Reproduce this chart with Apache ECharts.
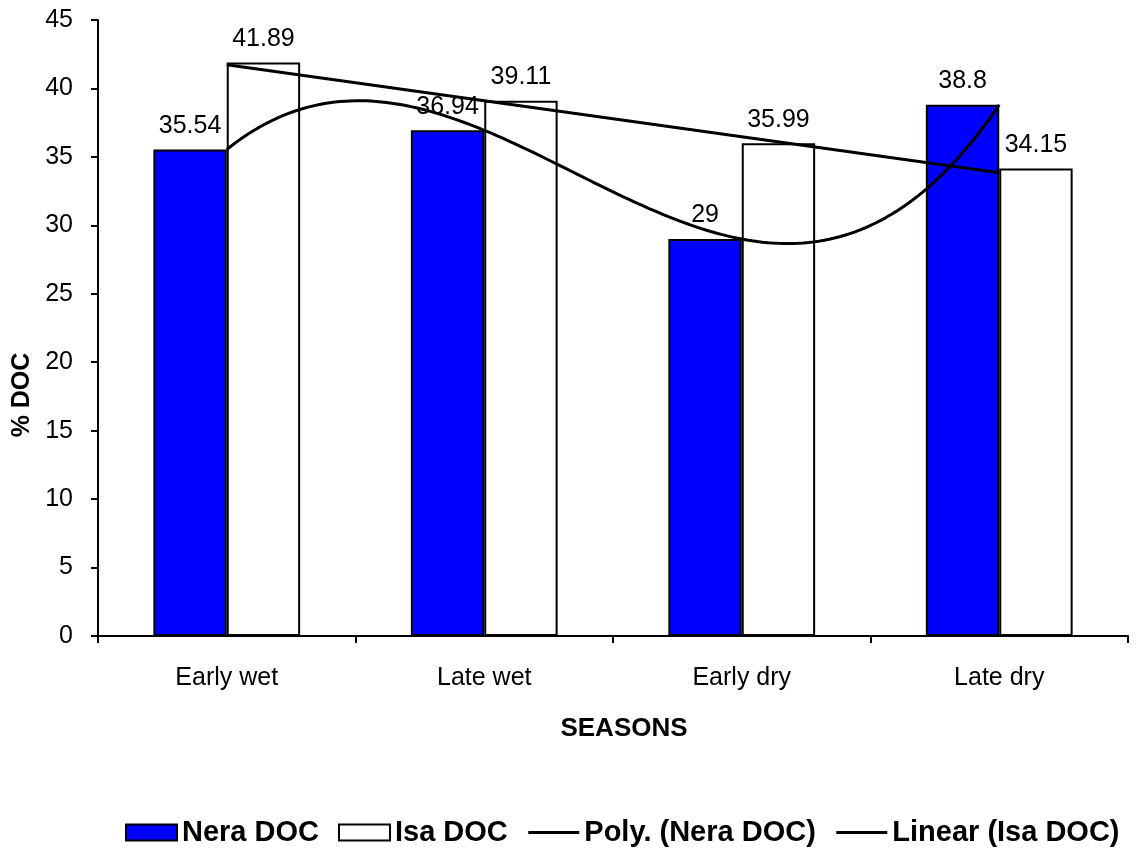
<!DOCTYPE html>
<html>
<head>
<meta charset="utf-8">
<script src="https://cdn.jsdelivr.net/npm/echarts@6/dist/echarts.min.js"></script>
<style>
  html, body { margin: 0; padding: 0; background: #fff; }
  #main { width: 1136px; height: 850px; }
</style>
</head>
<body>
<div id="main"></div>
<script>
// chart values
var seasons = ['Early wet', 'Late wet', 'Early dry', 'Late dry'];
var neraDoc = [35.54, 36.94, 29, 38.8];
var isaDoc = [41.89, 39.11, 35.99, 34.15];

var FONT = "'Liberation Sans', Arial, sans-serif";

// Poly. (Nera DOC): order-3 polynomial trendline through the 4 points (x = 1..4)
function polyTrend(ys) {
    var xs = ys.map(function (v, i) { return i + 1; });
    var pts = [];
    for (var x = 1; x <= 4.0001; x += 0.02) {
        var y = 0;
        for (var i = 0; i < xs.length; i++) {
            var l = 1;
            for (var j = 0; j < xs.length; j++) {
                if (j !== i) l *= (x - xs[j]) / (xs[i] - xs[j]);
            }
            y += ys[i] * l;
        }
        pts.push([x, y]);
    }
    return pts;
}

// Linear (Isa DOC): least squares line
function linearTrend(ys) {
    var n = ys.length, mx = (n + 1) / 2, my = 0, sxy = 0, sxx = 0;
    ys.forEach(function (v) { my += v / n; });
    ys.forEach(function (v, i) {
        sxy += (i + 1 - mx) * (v - my);
        sxx += (i + 1 - mx) * (i + 1 - mx);
    });
    var b = sxy / sxx, a = my - b * mx;
    return [[1, a + b], [n, a + b * n]];
}

var myChart = echarts.init(document.getElementById('main'));

myChart.setOption({
    animation: false,
    backgroundColor: '#fff',
    textStyle: { fontFamily: FONT },
    grid: { left: 98, right: 8, top: 20, bottom: 214 },
    legend: {
        left: 120,
        top: 813,
        itemWidth: 51,
        itemHeight: 16,
        itemGap: 19,
        textStyle: { fontFamily: FONT, fontSize: 29, fontWeight: 'bold', color: '#000' },
        data: [
            { name: 'Nera DOC', icon: 'rect' },
            { name: 'Isa DOC', icon: 'rect' },
            { name: 'Poly. (Nera DOC)', itemStyle: { opacity: 0 }, lineStyle: { width: 3 } },
            { name: 'Linear (Isa DOC)', itemStyle: { opacity: 0 }, lineStyle: { width: 3 } }
        ]
    },
    xAxis: [
        {
            type: 'category',
            data: seasons,
            name: 'SEASONS',
            nameLocation: 'middle',
            nameGap: 80,
            nameTextStyle: {
                fontFamily: FONT, fontSize: 26, fontWeight: 'bold', color: '#000',
                padding: [0, 0, 0, 22]
            },
            axisLine: { lineStyle: { color: '#000', width: 2 } },
            axisTick: { show: true, length: 7, lineStyle: { color: '#000', width: 2 } },
            axisLabel: { fontFamily: FONT, fontSize: 25, color: '#000', margin: 30 },
            splitLine: { show: false }
        },
        {
            type: 'value',
            min: 0.5,
            max: 4.5,
            show: false
        }
    ],
    yAxis: {
        type: 'value',
        min: 0,
        max: 45,
        interval: 5,
        name: '% DOC',
        nameLocation: 'middle',
        nameGap: 58,
        nameTextStyle: {
            fontFamily: FONT, fontSize: 25, fontWeight: 'bold', color: '#000',
            padding: [0, 134, 0, 0]
        },
        axisLine: { show: true, lineStyle: { color: '#000', width: 2 } },
        axisTick: { show: true, length: 7, lineStyle: { color: '#000', width: 2 } },
        axisLabel: { fontFamily: FONT, fontSize: 25, color: '#000', margin: 25 },
        splitLine: { show: false }
    },
    series: [
        {
            name: 'Nera DOC',
            type: 'bar',
            data: neraDoc,
            barGap: 0,
            barCategoryGap: '43%',
            itemStyle: { color: '#0000ff', borderColor: '#000', borderWidth: 2 },
            label: {
                show: true,
                position: 'top',
                distance: 11,
                fontFamily: FONT,
                fontSize: 25,
                color: '#000'
            }
        },
        {
            name: 'Isa DOC',
            type: 'bar',
            data: isaDoc,
            itemStyle: { color: '#fff', borderColor: '#000', borderWidth: 2 },
            label: {
                show: true,
                position: 'top',
                distance: 11,
                fontFamily: FONT,
                fontSize: 25,
                color: '#000'
            }
        },
        {
            name: 'Poly. (Nera DOC)',
            type: 'line',
            xAxisIndex: 1,
            data: polyTrend(neraDoc),
            symbol: 'none',
            z: 5,
            lineStyle: { color: '#000', width: 3 },
            itemStyle: { color: '#000' }
        },
        {
            name: 'Linear (Isa DOC)',
            type: 'line',
            xAxisIndex: 1,
            data: linearTrend(isaDoc),
            symbol: 'none',
            z: 5,
            lineStyle: { color: '#000', width: 3 },
            itemStyle: { color: '#000' }
        }
    ]
});
</script>
</body>
</html>
